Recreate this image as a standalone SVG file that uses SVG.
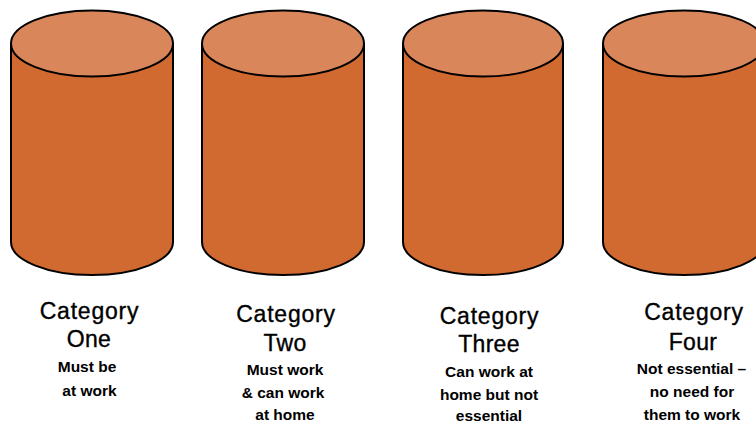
<svg xmlns="http://www.w3.org/2000/svg" width="756" height="424" viewBox="0 0 756 424">
  <style>
    .body { fill: #D16A30; stroke: #000; stroke-width: 2; }
    .top { fill: #DA865B; stroke: #000; stroke-width: 2; }
    .title { font-family: "Liberation Sans", Arial, sans-serif; font-size: 23px; fill: #000; stroke: #000; stroke-width: 0.35; text-anchor: middle; }
    .cat { letter-spacing: 0.8px; }
    .name { letter-spacing: 0.3px; }
    .desc { font-family: "Liberation Sans", Arial, sans-serif; font-size: 15.5px; font-weight: bold; fill: #000; text-anchor: middle; }
  </style>
  <rect width="756" height="424" fill="#fff"/>

  <g id="category-one">
    <path class="body" d="M11,43.5 V242 A81,33 0 0 0 173,242 V43.5 Z"/>
    <ellipse class="top" cx="92" cy="43.5" rx="81" ry="33"/>
    <text class="title cat" x="89.5" y="319">Category</text>
    <text class="title name" x="89" y="347">One</text>
    <text class="desc" x="87" y="372">Must be</text>
    <text class="desc" x="89.5" y="396">at work</text>
  </g>

  <g id="category-two">
    <path class="body" d="M202,43.5 V242 A81,33 0 0 0 364,242 V43.5 Z"/>
    <ellipse class="top" cx="283" cy="43.5" rx="81" ry="33"/>
    <text class="title cat" x="286" y="322">Category</text>
    <text class="title name" x="285" y="351">Two</text>
    <text class="desc" x="285" y="375">Must work</text>
    <text class="desc" x="283" y="398">&amp; can work</text>
    <text class="desc" x="285" y="420">at home</text>
  </g>

  <g id="category-three">
    <path class="body" d="M403,43.5 V242 A80,33 0 0 0 563,242 V43.5 Z"/>
    <ellipse class="top" cx="483" cy="43.5" rx="80" ry="33"/>
    <text class="title cat" x="489.5" y="324">Category</text>
    <text class="title name" x="489" y="352">Three</text>
    <text class="desc" x="489" y="377">Can work at</text>
    <text class="desc" x="489" y="400">home but not</text>
    <text class="desc" x="489" y="421">essential</text>
  </g>

  <g id="category-four">
    <path class="body" d="M603,43.5 V242 A81,33 0 0 0 765,242 V43.5 Z"/>
    <ellipse class="top" cx="684" cy="43.5" rx="81" ry="33"/>
    <text class="title cat" x="694" y="320">Category</text>
    <text class="title name" x="693" y="350">Four</text>
    <text class="desc" x="691.5" y="374">Not essential –</text>
    <text class="desc" x="692" y="397">no need for</text>
    <text class="desc" x="692" y="420">them to work</text>
  </g>
</svg>
